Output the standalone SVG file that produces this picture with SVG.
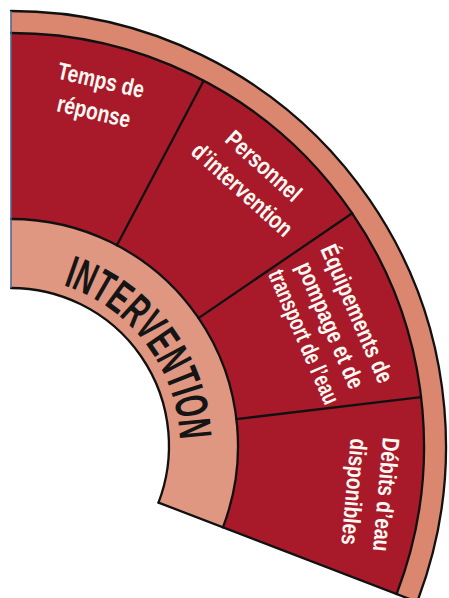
<svg xmlns="http://www.w3.org/2000/svg" width="449" height="598" viewBox="0 0 449 598">
<style>
.seg{fill:#A81A2A}
.band-out{fill:#DB866E}
.band-in{fill:#E09782}
.ln{fill:none;stroke:#111;stroke-width:2.3;stroke-linecap:round;stroke-linejoin:round}
.edge{fill:none;stroke:#4d6a94;stroke-width:1.6}
.lbl{font-family:"Liberation Sans",Arial,sans-serif;font-weight:bold;font-size:24px;fill:#fff8f2;text-anchor:middle}
.big{font-family:"Liberation Sans",Arial,sans-serif;font-weight:bold;font-size:46px;fill:#151515}
</style>
<defs>
<path id="arcText" d="M 63.2 285.3 A 169 169 0 0 1 179.9 440.1"/>
</defs>
<rect width="449" height="598" fill="#fff"/>
<g id="outer-ring">
<path class="band-out" d="M 11 11 A 435 435 0 0 1 417.1 601.9 L 396.6 594 A 413 413 0 0 0 11 33 Z"/>
</g>
<g id="intervention">
<path class="band-in" d="M 11 219 A 227 227 0 0 1 222.9 527.4 L 158.5 502.6 A 158 158 0 0 0 11 288 Z"/>
<text class="big"><textPath href="#arcText" textLength="206" lengthAdjust="spacingAndGlyphs">INTERVENTION</textPath></text>
</g>
<g id="temps-de-reponse">
<path class="seg" d="M 11 33 A 413 413 0 0 1 203.6 80.7 L 116.9 245.2 A 227 227 0 0 0 11 219 Z"/>
<text class="lbl" transform="translate(97,98) rotate(13) scale(0.8,1)"><tspan x="0" y="-10">Temps de</tspan><tspan x="0" y="22">réponse</tspan></text>
</g>
<g id="personnel-intervention">
<path class="seg" d="M 203.6 80.7 A 413 413 0 0 1 352.2 213.3 L 198.5 318.1 A 227 227 0 0 0 116.9 245.2 Z"/>
<text class="lbl" transform="translate(251.6,179.4) rotate(42) scale(0.8,1)"><tspan x="0" y="-10">Personnel</tspan><tspan x="0" y="22">d’intervention</tspan></text>
</g>
<g id="equipements">
<path class="seg" d="M 352.2 213.3 A 413 413 0 0 1 421.1 397.1 L 236.4 419.1 A 227 227 0 0 0 198.5 318.1 Z"/>
<text class="lbl" transform="translate(328.5,326) rotate(66.5) scale(0.8,1)"><tspan x="0" y="-23">Équipements de</tspan><tspan x="0" y="6">pompage et de</tspan><tspan x="0" y="35" textLength="180" lengthAdjust="spacingAndGlyphs">transport de l’eau</tspan></text>
</g>
<g id="debits">
<path class="seg" d="M 421.1 397.1 A 413 413 0 0 1 396.6 594 L 222.9 527.4 A 227 227 0 0 0 236.4 419.1 Z"/>
<text class="lbl" transform="translate(368,493) rotate(95) scale(0.8,1)"><tspan x="0" y="-10">Débits d’eau</tspan><tspan x="0" y="22">disponibles</tspan></text>
</g>
<g id="connectors">
<path class="ln" d="M 11 11 A 435 435 0 0 1 417.1 601.9"/>
<path class="ln" d="M 11 33 A 413 413 0 0 1 396.6 594"/>
<path class="ln" d="M 11 219 A 227 227 0 0 1 222.9 527.4"/>
<path class="ln" d="M 11 288 A 158 158 0 0 1 158.5 502.6"/>
<path class="ln" d="M 158.5 502.6 L 417.1 601.9"/>
<path class="ln" d="M 116.9 245.2 L 203.6 80.7"/>
<path class="ln" d="M 198.5 318.1 L 352.2 213.3"/>
<path class="ln" d="M 236.4 419.1 L 421.1 397.1"/>
<path class="edge" d="M 11 11 L 11 288"/>
</g>
</svg>
